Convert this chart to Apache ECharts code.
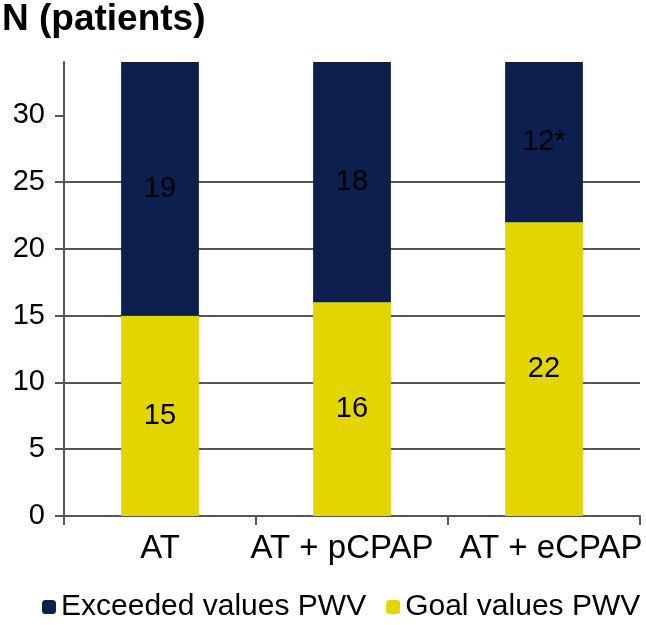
<!DOCTYPE html>
<html><head><meta charset="utf-8">
<script src="https://cdn.jsdelivr.net/npm/echarts@6/dist/echarts.min.js"></script>
<style>html,body{margin:0;padding:0;background:#fff}#c{width:646px;height:625px}</style>
</head><body><div id="c"></div>
<script>
var categories = ['AT', 'AT + pCPAP', 'AT + eCPAP'];
var goalValues = [15, 16, 22];
var exceededValues = [19, 18, 12];
var exceededLabels = ['19', '18', '12*'];
var yTicks = [0, 5, 10, 15, 20, 25, 30];

var chart = echarts.init(document.getElementById('c'));
var font = 'Liberation Sans, Arial, sans-serif';
var labelPads = [[0, 0, 0, 0], [0, 20, 0, 0], [0, 0, 0, 14]];
chart.setOption({
  animation: false,
  title: { text: 'N (patients)', left: -3, top: -4, textStyle: { fontFamily: font, fontSize: 37, fontWeight: 'bold', color: '#000' } },
  grid: { left: 64, right: 6, top: 62, bottom: 109 },
  legend: {
    bottom: -2, left: 37, itemWidth: 14, itemHeight: 14, itemGap: 20,
    textStyle: { fontFamily: font, fontSize: 30, color: '#000' },
    data: ['Exceeded values PWV', 'Goal values PWV']
  },
  xAxis: {
    type: 'category',
    data: categories.map(function (c, i) { return { value: c, textStyle: { padding: labelPads[i] } }; }),
    axisLine: { lineStyle: { color: '#555', width: 2 } },
    axisTick: { show: true, interval: 0, length: 9, lineStyle: { color: '#555', width: 2 } },
    axisLabel: { interval: 0, fontFamily: font, fontSize: 33, color: '#000', margin: 16 }
  },
  yAxis: {
    type: 'value', min: 0, max: 34, interval: 5,
    axisLine: { show: true, lineStyle: { color: '#555', width: 2 } },
    axisTick: { show: true, length: 9, customValues: yTicks, lineStyle: { color: '#555', width: 2 } },
    axisLabel: { fontFamily: font, fontSize: 29, color: '#000', margin: 19, customValues: yTicks },
    splitLine: { showMaxLine: false, lineStyle: { color: '#555', width: 2 } }
  },
  series: [
    { name: 'Goal values PWV', type: 'bar', stack: 's', barWidth: '40.5%', data: goalValues,
      itemStyle: { color: '#E3D500' },
      label: { show: true, position: 'inside', fontFamily: font, fontSize: 29, color: '#000' } },
    { name: 'Exceeded values PWV', type: 'bar', stack: 's', barWidth: '40.5%', data: exceededValues,
      itemStyle: { color: '#0C1F4E' },
      label: { show: true, position: 'inside', fontFamily: font, fontSize: 29, color: '#000',
        formatter: function (p) { return exceededLabels[p.dataIndex]; } } }
  ]
});
</script></body></html>
